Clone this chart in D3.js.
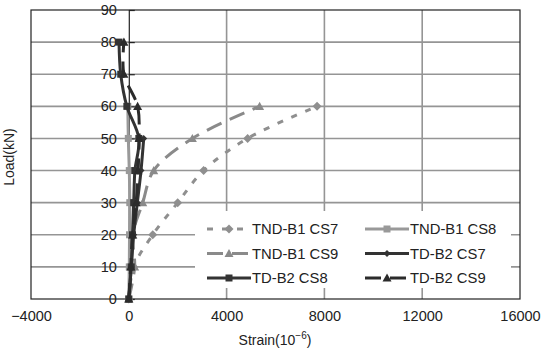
<!DOCTYPE html>
<html>
<head>
<meta charset="utf-8">
<script src="https://cdn.jsdelivr.net/npm/d3@7"></script>
<style>
  body { margin: 0; background: #fff; }
  text { font-family: "Liberation Sans", Arial, sans-serif; fill: #222; }
</style>
</head>
<body>
<svg id="chart" width="541" height="352"></svg>
<script>
// load steps (kN) and strain readings (x10^-6) per gauge
var loadLevels = [0, 10, 20, 30, 40, 50, 60, 70, 80];
var tndB1CS7 = [0, 200, 980, 2000, 3060, 4860, 7700];
var tndB1CS8 = [0, 20, 30, 40, 20, -20, -40];
var tndB1CS9 = [0, 240, 170, 570, 1020, 2600, 5350];
var tdB2CS7 = [0, 100, 200, 350, 500, 610];
var tdB2CS8 = [0, 100, 150, 200, 250, 410, -80, -330, -400];
var tdB2CS9 = [0, 80, 150, 300, 380, 420, 360, -200, -200];

var xTicks = [-4000, 0, 4000, 8000, 12000, 16000];
var yTicks = [0, 10, 20, 30, 40, 50, 60, 70, 80, 90];

var series = [
	{name: 'TND-B1 CS7', values: tndB1CS7, color: '#8f8f8f', width: 3, dash: '6,9', marker: 'diamond', size: 7},
	{name: 'TND-B1 CS8', values: tndB1CS8, color: '#999999', width: 3, dash: null, marker: 'square', size: 7},
	{name: 'TND-B1 CS9', values: tndB1CS9, color: '#8a8a8a', width: 3, dash: '16,9', marker: 'triangle', size: 9},
	{name: 'TD-B2 CS7', values: tdB2CS7, color: '#333333', width: 3, dash: null, marker: 'diamond', size: 5},
	{name: 'TD-B2 CS8', values: tdB2CS8, color: '#333333', width: 3, dash: null, marker: 'square', size: 7},
	{name: 'TD-B2 CS9', values: tdB2CS9, color: '#2b2b2b', width: 3, dash: '16,9', marker: 'triangle', size: 9}
];

var plot = {left: 31, right: 520, top: 10, bottom: 299};

var svg = d3.select('#chart');

var xScale = d3.scaleLinear().domain([-4000, 16000]).range([plot.left, plot.right]),
	yScale = d3.scaleLinear().domain([0, 90]).range([plot.bottom, plot.top]);

// gridlines
svg.append('g').selectAll('line.h')
	.data(yTicks.slice(1, -1))
	.enter().append('line')
	.attr('x1', plot.left).attr('x2', plot.right)
	.attr('y1', function(d) { return yScale(d); })
	.attr('y2', function(d) { return yScale(d); })
	.attr('stroke', '#959595').attr('stroke-width', 1.6);

svg.append('g').selectAll('line.v')
	.data([4000, 8000, 12000])
	.enter().append('line')
	.attr('y1', plot.top).attr('y2', plot.bottom)
	.attr('x1', function(d) { return xScale(d); })
	.attr('x2', function(d) { return xScale(d); })
	.attr('stroke', '#959595').attr('stroke-width', 1.6);

// plot border
svg.append('rect')
	.attr('x', plot.left).attr('y', plot.top)
	.attr('width', plot.right - plot.left).attr('height', plot.bottom - plot.top)
	.attr('fill', 'none').attr('stroke', '#222').attr('stroke-width', 1.2);

// y axis sits on strain = 0
var yAxis = d3.axisLeft(yScale).tickValues(yTicks).tickSize(0).tickPadding(12);
var gy = svg.append('g')
	.attr('transform', 'translate(' + xScale(0) + ',0)')
	.call(yAxis);
gy.select('.domain').attr('stroke', '#222').attr('stroke-width', 1.2);
gy.selectAll('.tick').append('line')
	.attr('x1', 0).attr('x2', 6).attr('stroke', '#222').attr('stroke-width', 1.2);
gy.selectAll('text').style('font-size', '14.5px').attr('fill', '#222');

var xAxis = d3.axisBottom(xScale).tickValues(xTicks).tickSize(0).tickPadding(12)
	.tickFormat(function(d) { return d < 0 ? '\u2212' + (-d) : d; });
var gx = svg.append('g')
	.attr('transform', 'translate(0,' + plot.bottom + ')')
	.call(xAxis);
gx.select('.domain').remove();
gx.selectAll('text').style('font-size', '14.5px').attr('fill', '#222');

// axis titles
svg.append('text')
	.attr('transform', 'translate(14,157) rotate(-90)')
	.attr('text-anchor', 'middle')
	.style('font-size', '14px')
	.text('Load(kN)');

var xt = svg.append('text')
	.attr('x', 275).attr('y', 345)
	.attr('text-anchor', 'middle')
	.style('font-size', '14px');
xt.append('tspan').text('Strain(10');
xt.append('tspan').attr('dy', -6).style('font-size', '10px').text('\u22126');
xt.append('tspan').attr('dy', 6).text(')');

// series
var line = d3.line()
	.curve(d3.curveCatmullRom.alpha(0.5))
	.x(function(d) { return xScale(d[0]); })
	.y(function(d) { return yScale(d[1]); });

function markerPath(type, size) {
	var s = size / 2;
	if (type === 'square') return 'M' + (-s) + ',' + (-s) + 'h' + size + 'v' + size + 'h' + (-size) + 'Z';
	if (type === 'diamond') return 'M0,' + (-s - 1) + 'L' + (s + 1) + ',0L0,' + (s + 1) + 'L' + (-s - 1) + ',0Z';
	return 'M0,' + (-s) + 'L' + (s) + ',' + (s * 0.8) + 'L' + (-s) + ',' + (s * 0.8) + 'Z';
}

svg.append('defs').append('clipPath').attr('id', 'clip')
	.append('rect')
	.attr('x', plot.left).attr('y', plot.top)
	.attr('width', plot.right - plot.left).attr('height', plot.bottom - plot.top + 6);

series.forEach(function(s) {
	var pts = s.values.map(function(v, i) { return [v, loadLevels[i]]; });
	var g = svg.append('g').attr('clip-path', 'url(#clip)');
	g.append('path')
		.datum(pts)
		.attr('d', line)
		.attr('fill', 'none')
		.attr('stroke', s.color)
		.attr('stroke-width', s.width)
		.attr('stroke-dasharray', s.dash);
	g.selectAll('path.m')
		.data(pts)
		.enter().append('path')
		.attr('transform', function(d) { return 'translate(' + xScale(d[0]) + ',' + yScale(d[1]) + ')'; })
		.attr('d', markerPath(s.marker, s.size))
		.attr('fill', s.color);
});

// legend
var legend = svg.append('g');
legend.append('rect')
	.attr('x', 195).attr('y', 211).attr('width', 316).attr('height', 77)
	.attr('fill', '#fff');

series.forEach(function(s, i) {
	var col = i % 2, row = Math.floor(i / 2);
	var x0 = col ? 365 : 207, y0 = 229 + row * 24.5;
	var item = legend.append('g').attr('transform', 'translate(' + x0 + ',' + y0 + ')');
	item.append('line')
		.attr('x1', 0).attr('x2', 44)
		.attr('stroke', s.color).attr('stroke-width', s.width)
		.attr('stroke-dasharray', s.dash);
	item.append('path')
		.attr('transform', 'translate(22,0)')
		.attr('d', markerPath(s.marker, s.size))
		.attr('fill', s.color);
	item.append('text')
		.attr('x', 45).attr('y', 5)
		.style('font-size', '14.8px')
		.text(s.name);
});
</script>
</body>
</html>
